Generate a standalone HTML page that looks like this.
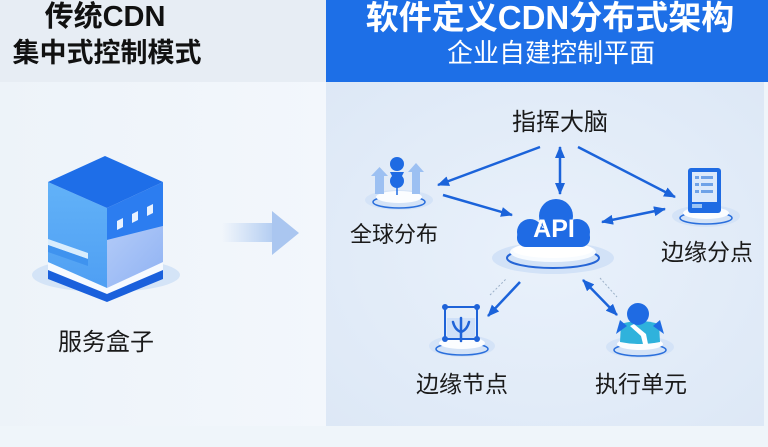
<!DOCTYPE html>
<html><head><meta charset="utf-8"><style>
html,body{margin:0;padding:0;width:768px;height:447px;overflow:hidden;background:#eff5fa;}
svg{display:block}
</style></head><body>
<svg width="768" height="447" viewBox="0 0 768 447" xmlns="http://www.w3.org/2000/svg">
<defs>
  <radialGradient id="rp" cx="0.5" cy="0.5" r="0.7">
    <stop offset="0" stop-color="#e9f1fb"/>
    <stop offset="1" stop-color="#dde8f6"/>
  </radialGradient>
  <linearGradient id="lb" x1="0" y1="0" x2="1" y2="0">
    <stop offset="0" stop-color="#edf3f9"/>
    <stop offset="1" stop-color="#f3f7fc"/>
  </linearGradient>
  <linearGradient id="shaft" x1="0" y1="0" x2="1" y2="0">
    <stop offset="0" stop-color="#b7d0f2" stop-opacity="0"/>
    <stop offset="1" stop-color="#b3cdf2"/>
  </linearGradient>
  <linearGradient id="lface" x1="0" y1="0" x2="0" y2="1">
    <stop offset="0" stop-color="#62b2f8"/>
    <stop offset="1" stop-color="#4f9ff3"/>
  </linearGradient>
  <linearGradient id="rface" x1="0" y1="0" x2="1" y2="1">
    <stop offset="0" stop-color="#b3cbf8"/>
    <stop offset="1" stop-color="#8fb2f3"/>
  </linearGradient>
  <marker id="ah" viewBox="0 0 12 10" refX="11" refY="5" markerWidth="12" markerHeight="10" markerUnits="userSpaceOnUse" orient="auto-start-reverse">
    <path d="M0,0 L12,5 L0,10 z" fill="#1b63da"/>
  </marker>
</defs>

<!-- backgrounds -->
<rect x="0" y="0" width="768" height="447" fill="#eff5fa"/>
<rect x="0" y="82" width="326" height="344" fill="url(#lb)"/>
<rect x="0" y="0" width="326" height="82" fill="#e7edf4"/>
<rect x="326" y="0" width="442" height="82" fill="#1d6fe7"/>
<rect x="326" y="82" width="438" height="344" fill="url(#rp)"/>

<!-- left header text -->
<text x="105" y="26" text-anchor="middle" font-family="Liberation Sans, Noto Sans CJK SC, sans-serif" font-weight="bold" font-size="29" fill="#111">传统CDN</text>
<text x="107" y="62" text-anchor="middle" font-family="Liberation Sans, Noto Sans CJK SC, sans-serif" font-weight="bold" font-size="27" fill="#111">集中式控制模式</text>

<!-- right header text -->
<text x="550" y="29" text-anchor="middle" font-family="Liberation Sans, Noto Sans CJK SC, sans-serif" font-weight="bold" font-size="33" fill="#fff">软件定义CDN分布式架构</text>
<text x="551" y="62" text-anchor="middle" font-family="Liberation Sans, Noto Sans CJK SC, sans-serif" font-size="26" fill="#fff">企业自建控制平面</text>

<!-- cube -->
<ellipse cx="106" cy="275" rx="74" ry="17" fill="#d4e4f7"/>
<polygon points="48,262 107,287 163,262 163,271 107,294 48,271" fill="#f6faff"/>
<polygon points="48,270 107,294 163,270 163,279 107,302 48,279" fill="#1a60dc"/>
<polygon points="48,182 107,208 107,288 48,262" fill="url(#lface)"/>
<polygon points="48,239 88,253 88,259 48,245" fill="#d9edfd"/>
<polygon points="48,245 88,259 88,266 48,252" fill="#3f93ef"/>
<polygon points="107,240 163,226 163,262 107,288" fill="url(#rface)"/>
<polygon points="107,208 163,182 163,226 107,240" fill="#2c7df0"/>
<polygon points="105,156 163,182 107,208 48,182" fill="#1e6ee8"/>
<polygon points="117,221 123,218 123,227 117,230" fill="#e8f2ff"/>
<polygon points="132,214 138,211 138,220 132,223" fill="#e8f2ff"/>
<polygon points="147,207 153,204 153,213 147,216" fill="#e8f2ff"/>
<text x="106" y="350" text-anchor="middle" font-family="Liberation Sans, Noto Sans CJK SC, sans-serif" font-size="24" fill="#1a1a1a">服务盒子</text>

<!-- big arrow -->
<rect x="222" y="223" width="51" height="19" fill="url(#shaft)"/>
<polygon points="272,211 299,233 272,255" fill="#aac6f0"/>

<!-- connectors -->
<g stroke="#1b63da" stroke-width="2.5" fill="none">
  <line x1="540" y1="147" x2="438" y2="185" marker-end="url(#ah)"/>
  <line x1="560" y1="147" x2="560" y2="194" marker-start="url(#ah)" marker-end="url(#ah)"/>
  <line x1="578" y1="147" x2="675" y2="197" marker-end="url(#ah)"/>
  <line x1="443" y1="195" x2="512" y2="215" marker-end="url(#ah)"/>
  <line x1="602" y1="222" x2="665" y2="209" marker-start="url(#ah)" marker-end="url(#ah)"/>
  <line x1="520" y1="282" x2="488" y2="316" marker-end="url(#ah)"/>
  <line x1="583" y1="280" x2="617" y2="315" marker-start="url(#ah)" marker-end="url(#ah)"/>
</g>
<g stroke="#9bb0c8" stroke-width="1" stroke-dasharray="2,2" fill="none">
  <line x1="490" y1="295" x2="507" y2="278"/>
  <line x1="600" y1="278" x2="617" y2="297"/>
</g>

<!-- 指挥大脑 -->
<text x="560" y="130" text-anchor="middle" font-family="Liberation Sans, Noto Sans CJK SC, sans-serif" font-size="24" fill="#1a1a1a">指挥大脑</text>

<!-- API node -->
<ellipse cx="553" cy="258" rx="61" ry="16" fill="#d2e2f7"/>
<ellipse cx="553" cy="258" rx="46" ry="10" fill="none" stroke="#2565d6" stroke-width="2"/>
<ellipse cx="553" cy="252" rx="43" ry="10" fill="#f7fbff"/>
<ellipse cx="553" cy="250" rx="40" ry="8" fill="#ffffff"/>
<g fill="#1f6be4">
  <circle cx="530" cy="232" r="13"/>
  <circle cx="556" cy="216" r="17"/>
  <circle cx="577" cy="232" r="13"/>
  <rect x="517" y="228" width="73" height="19" rx="9"/>
</g>
<text x="554" y="237" text-anchor="middle" font-family="Liberation Sans, sans-serif" font-weight="bold" font-size="25" fill="#fff">API</text>

<!-- 全球分布 node -->
<ellipse cx="399" cy="200" rx="34" ry="10" fill="#d4e3f7"/>
<ellipse cx="399" cy="202" rx="26" ry="6" fill="none" stroke="#2a6fdc" stroke-width="1.5"/>
<ellipse cx="399" cy="197" rx="23" ry="6" fill="#fbfdff"/>
<rect x="375" y="174" width="9" height="20" fill="#9cc0f2"/>
<polygon points="371,176 379.5,167 388,176" fill="#9cc0f2"/>
<rect x="412" y="170" width="8" height="24" fill="#9cc0f2"/>
<polygon points="408,172 416,163 424,172" fill="#9cc0f2"/>
<circle cx="397" cy="164" r="7" fill="#1f6be3"/>
<circle cx="397" cy="181" r="7" fill="#1f6be3"/>
<path d="M390,172 L404,172 L401,178 L393,178 Z" fill="#1f6be3"/>
<line x1="397" y1="186" x2="397" y2="195" stroke="#1f6be3" stroke-width="1.5"/>
<text x="394" y="242" text-anchor="middle" font-family="Liberation Sans, Noto Sans CJK SC, sans-serif" font-size="22" fill="#1a1a1a">全球分布</text>

<!-- 边缘分点 node -->
<ellipse cx="706" cy="216" rx="34" ry="11" fill="#d4e3f7"/>
<ellipse cx="706" cy="218" rx="26" ry="6" fill="none" stroke="#2a6fdc" stroke-width="1.5"/>
<ellipse cx="706" cy="213" rx="23" ry="6" fill="#fbfdff"/>
<rect x="688" y="168" width="33" height="45" rx="3" fill="#1f6be3"/>
<rect x="692" y="172" width="25" height="30" fill="#dce9fb"/>
<g fill="#6fa2e8">
  <rect x="695" y="176" width="4" height="3"/><rect x="701" y="176" width="12" height="3"/>
  <rect x="695" y="183" width="4" height="3"/><rect x="701" y="183" width="12" height="3"/>
  <rect x="695" y="190" width="4" height="3"/><rect x="701" y="190" width="12" height="3"/>
</g>
<rect x="692" y="204" width="10" height="4" fill="#9cc4f4"/>
<text x="707" y="260" text-anchor="middle" font-family="Liberation Sans, Noto Sans CJK SC, sans-serif" font-size="23" fill="#1a1a1a">边缘分点</text>

<!-- 边缘节点 node -->
<ellipse cx="462" cy="346" rx="33" ry="11" fill="#d4e3f7"/>
<ellipse cx="462" cy="349" rx="26" ry="6" fill="none" stroke="#2a6fdc" stroke-width="1.5"/>
<ellipse cx="462" cy="343" rx="23" ry="6" fill="#fbfdff"/>
<rect x="447" y="318" width="28" height="20" fill="#cfe0f8"/>
<rect x="445" y="307" width="32" height="32" fill="none" stroke="#1f63d8" stroke-width="2"/>
<g fill="#1f63d8">
  <circle cx="445" cy="307" r="3"/><circle cx="477" cy="307" r="3"/>
  <circle cx="445" cy="339" r="3"/><circle cx="477" cy="339" r="3"/>
</g>
<g stroke="#1f63d8" stroke-width="2.5" fill="none" stroke-linecap="round">
  <line x1="461" y1="318" x2="461" y2="341"/>
  <path d="M453,322 Q455,330 461,332"/>
  <path d="M469,322 Q467,330 461,332"/>
</g>
<text x="462" y="392" text-anchor="middle" font-family="Liberation Sans, Noto Sans CJK SC, sans-serif" font-size="23" fill="#1a1a1a">边缘节点</text>

<!-- 执行单元 node -->
<ellipse cx="640" cy="347" rx="34" ry="11" fill="#d4e3f7"/>
<ellipse cx="640" cy="350" rx="26" ry="6" fill="none" stroke="#2a6fdc" stroke-width="1.5"/>
<ellipse cx="640" cy="344" rx="23" ry="6" fill="#fbfdff"/>
<path d="M621,324 Q640,318 659,324 L660,342 Q640,346 620,342 Z" fill="#2fb2dc"/>
<path d="M634,324 L646,334 L648,344 L643,344 L641,336 L630,326 Z" fill="#ffffff"/>
<polygon points="616,334 620,320 627,326" fill="#1f6be3"/>
<polygon points="664,334 660,320 653,326" fill="#1f6be3"/>
<circle cx="638" cy="314" r="11" fill="#1f6be3"/>
<text x="641" y="392" text-anchor="middle" font-family="Liberation Sans, Noto Sans CJK SC, sans-serif" font-size="23" fill="#1a1a1a">执行单元</text>
</svg>
</body></html>
